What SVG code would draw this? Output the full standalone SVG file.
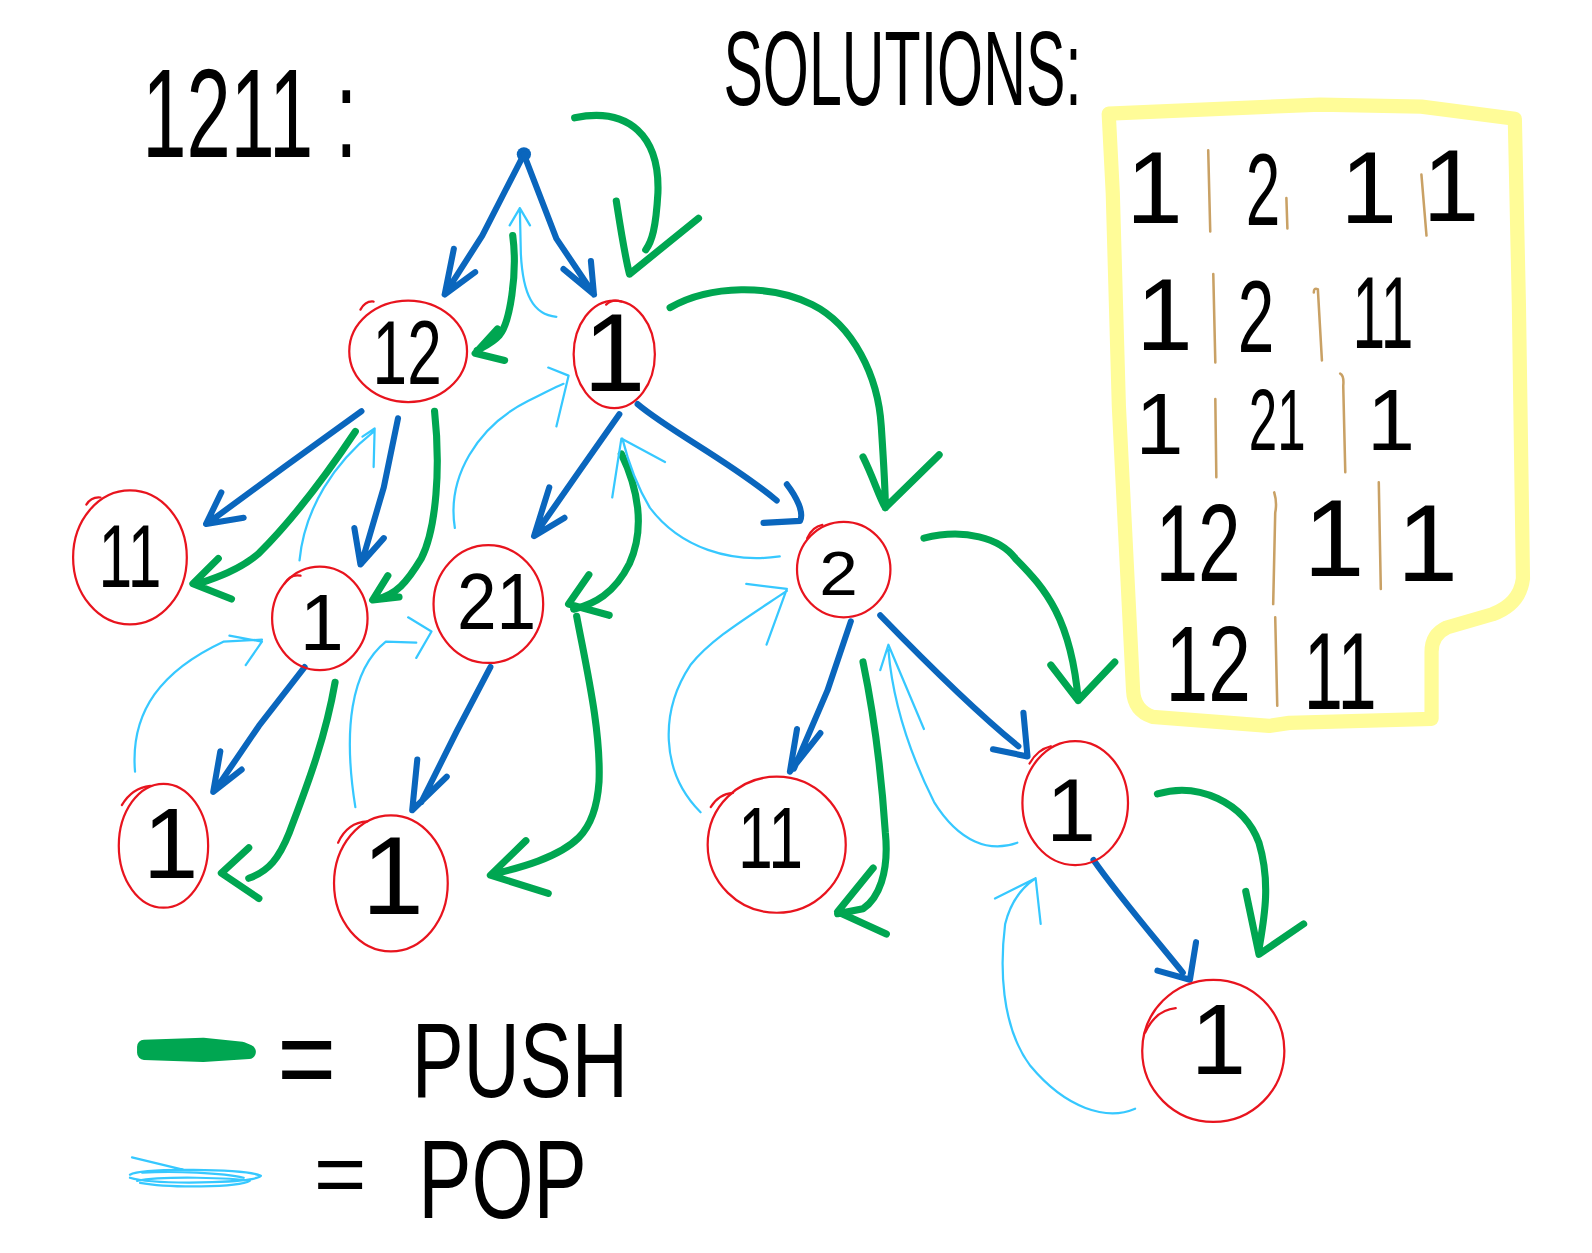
<svg xmlns="http://www.w3.org/2000/svg" width="1592" height="1253" viewBox="0 0 1592 1253">
<defs>
<style>
.b{fill:none;stroke:#0a66bd;stroke-width:6;stroke-linecap:round;stroke-linejoin:round}
.g{fill:none;stroke:#00a651;stroke-width:7;stroke-linecap:round;stroke-linejoin:round}
.p{fill:none;stroke:#36c8ff;stroke-width:2.2;stroke-linecap:round;stroke-linejoin:round}
.c{fill:none;stroke:#e8141e;stroke-width:2.2;stroke-linecap:round}
.t{font-family:"Liberation Sans",Arial,sans-serif;fill:#000;text-anchor:middle}
.s{fill:none;stroke:#c9a165;stroke-width:2.5;stroke-linecap:round}
</style>
</defs>
<rect width="1592" height="1253" fill="#fff"/>
<g transform="scale(1.0153)">
<g id="title">
<text class="t" x="246" y="155" font-size="125" textLength="212" lengthAdjust="spacingAndGlyphs">1211 :</text>
<text class="t" x="889" y="103" font-size="105" textLength="353" lengthAdjust="spacingAndGlyphs">SOLUTIONS:</text>
</g>
<g id="solutions">
<path d="M1092,112 L1300,103 L1400,105 L1492,117 L1496,300 L1500,570 Q1497,595 1470,605 L1425,618 Q1410,625 1410,642 L1410,708 L1270,712 L1250,715 L1135,706 Q1117,700 1116,680 L1102,400 L1096,190 Z" fill="none" stroke="#fffc98" stroke-width="14" stroke-linejoin="round"/>
<g class="t">
<text x="1137" y="220" font-size="100">1</text>
<text x="1244" y="222" font-size="100" textLength="34" lengthAdjust="spacingAndGlyphs">2</text>
<text x="1348" y="220" font-size="100">1</text>
<text x="1429" y="218" font-size="100">1</text>
<text x="1147" y="345" font-size="100">1</text>
<text x="1237" y="347" font-size="100" textLength="36" lengthAdjust="spacingAndGlyphs">2</text>
<text x="1362" y="343" font-size="100" textLength="60" lengthAdjust="spacingAndGlyphs">11</text>
<text x="1142" y="447" font-size="85">1</text>
<text x="1258" y="443" font-size="85" textLength="56" lengthAdjust="spacingAndGlyphs">21</text>
<text x="1370" y="443" font-size="85">1</text>
<text x="1180" y="572" font-size="108" textLength="84" lengthAdjust="spacingAndGlyphs">12</text>
<text x="1314" y="567" font-size="108">1</text>
<text x="1406" y="572" font-size="108">1</text>
<text x="1190" y="690" font-size="106" textLength="84" lengthAdjust="spacingAndGlyphs">12</text>
<text x="1320" y="698" font-size="108" textLength="72" lengthAdjust="spacingAndGlyphs">11</text>
</g>
<path class="s" d="M1190,148 L1192,228 M1267,195 L1268,225 M1400,172 L1405,232 M1195,270 L1197,357 M1294,288 Q1294,283 1298,285 L1302,355 M1197,393 L1198,470 M1320,368 Q1324,370 1323,380 L1325,465 M1255,485 Q1258,495 1256,505 L1254,595 M1358,475 L1360,580 M1256,608 L1258,695"/>
</g>
<g id="connectors">
<circle cx="516" cy="152" r="7" fill="#0a66bd"/>
<path class="b" d="M516,152 L475,232 L438,290 M447,245 L438,290 L468,268"/>
<path class="b" d="M516,152 L548,235 L585,290 M582,257 L585,290 L555,265"/>
<path class="b" d="M356,405 L280,460 L205,515 M218,485 L203,516 L240,510"/>
<path class="b" d="M392,412 L378,480 L356,555 M349,520 L355,556 L378,530"/>
<path class="b" d="M610,408 L570,465 L528,525 M541,480 L526,528 L556,510"/>
<path class="b" d="M628,398 C660,425 720,455 765,493 M775,477 C785,490 792,505 788,513 L752,515"/>
<path class="b" d="M300,657 L255,715 L212,778 M217,740 L210,780 L238,758"/>
<path class="b" d="M483,657 L450,720 L415,790 M411,748 L406,798 L440,765"/>
<path class="b" d="M838,612 L815,680 L782,757 M785,718 L778,760 L808,722"/>
<path class="b" d="M867,606 C900,640 960,700 1003,735 M1008,702 L1012,745 L978,738"/>
<path class="b" d="M1077,847 C1100,880 1130,915 1165,958 M1178,928 L1172,965 L1140,956"/>

<path class="g" d="M566,116 C620,105 650,135 648,190 C646,225 642,238 636,246 M607,198 C612,230 615,250 620,270 L688,215"/>
<path class="g" d="M505,232 C510,270 502,318 492,330 C485,338 475,342 470,345 M490,324 L468,348 L497,355"/>
<path class="g" d="M660,303 C700,280 760,280 800,300 C840,320 865,370 868,420 C870,450 872,480 872,500 M850,450 C860,470 866,490 872,500 L925,448"/>
<path class="g" d="M350,425 C320,470 290,510 255,545 C235,562 210,570 195,575 M215,550 L190,575 L228,590"/>
<path class="g" d="M428,405 C434,460 430,520 415,550 C400,575 390,585 372,590 M382,567 L367,591 L393,588"/>
<path class="g" d="M612,447 C628,480 636,520 620,555 C605,585 585,595 565,600 M580,566 L560,595 L600,606"/>
<path class="g" d="M330,672 C320,730 300,780 285,820 C275,845 265,858 245,865 M245,835 L218,860 L255,885"/>
<path class="g" d="M568,607 C578,660 592,720 590,770 C588,800 580,815 570,825 C550,845 510,855 490,860 M518,828 L483,862 L540,880"/>
<path class="g" d="M910,530 C950,520 985,530 1000,550 C1030,580 1055,610 1062,690 M1035,655 L1062,690 L1098,652"/>
<path class="g" d="M850,652 C860,700 868,760 872,820 C876,860 865,885 850,895 L825,900 M860,855 L825,898 L873,920"/>
<path class="g" d="M1140,782 C1180,770 1225,790 1240,830 C1252,870 1245,905 1240,935 M1227,878 L1240,940 L1284,910"/>

<path class="p" d="M548,312 C525,310 515,290 513,250 L512,205 M502,222 L512,205 L522,222"/>
<path class="p" d="M448,520 C440,470 470,420 520,395 C535,388 545,382 555,378 M540,362 L560,370 L548,420"/>
<path class="p" d="M295,552 C300,500 330,455 368,425 M357,430 L369,422 L368,460"/>
<path class="p" d="M133,760 C128,700 160,660 220,632 L258,630 M226,626 L258,632 L242,655"/>
<path class="p" d="M350,795 C338,720 345,660 380,632 L410,633 M402,608 L425,622 L410,648"/>
<path class="p" d="M768,548 C720,555 670,540 640,500 C628,480 620,460 613,432 M603,490 L612,432 L655,455"/>
<path class="p" d="M690,800 C650,760 650,700 680,655 C700,630 730,612 775,582 M735,575 L775,580 L755,635"/>
<path class="p" d="M1002,830 C975,840 945,830 920,790 C900,750 880,700 875,640 M867,660 L875,635 L910,718"/>
<path class="p" d="M1118,1092 C1090,1104 1050,1092 1015,1050 C985,1010 985,950 990,910 C995,890 1005,875 1020,865 M980,885 L1020,865 L1025,910"/>
</g>
<g id="n12"><ellipse class="c" cx="402" cy="346" rx="58" ry="50"/><path class="c" d="M355,305 Q360,296 368,297"/><text class="t" x="401" y="378" font-size="90" textLength="68" lengthAdjust="spacingAndGlyphs">12</text></g>
<g id="n1a"><ellipse class="c" cx="605" cy="349" rx="40" ry="53"/><path class="c" d="M597,300 Q603,294 612,297"/><text class="t" x="605" y="385" font-size="110">1</text></g>
<g id="n11a"><ellipse class="c" cx="128" cy="549" rx="56" ry="66"/><path class="c" d="M85,497 Q90,489 99,490"/><text class="t" x="128" y="578" font-size="88" textLength="62" lengthAdjust="spacingAndGlyphs">11</text></g>
<g id="n1b"><ellipse class="c" cx="315" cy="609" rx="47" ry="51"/><path class="c" d="M280,575 Q286,565 296,567"/><text class="t" x="317" y="640" font-size="78">1</text></g>
<g id="n21"><ellipse class="c" cx="481" cy="595" rx="54" ry="58"/><text class="t" x="489" y="620" font-size="78" textLength="78" lengthAdjust="spacingAndGlyphs">21</text></g>
<g id="n2"><ellipse class="c" cx="831" cy="561" rx="46" ry="47"/><path class="c" d="M795,530 Q800,519 810,517"/><text class="t" x="826" y="586" font-size="62" textLength="38" lengthAdjust="spacingAndGlyphs">2</text></g>
<g id="n1c"><ellipse class="c" cx="161" cy="833" rx="44" ry="61"/><path class="c" d="M120,793 Q130,776 148,774"/><text class="t" x="168" y="865" font-size="98">1</text></g>
<g id="n1d"><ellipse class="c" cx="385" cy="870" rx="56" ry="67"/><path class="c" d="M333,830 Q342,810 362,809"/><text class="t" x="387" y="900" font-size="110">1</text></g>
<g id="n11b"><ellipse class="c" cx="765" cy="832" rx="68" ry="67"/><path class="c" d="M700,795 Q708,782 722,781"/><text class="t" x="759" y="855" font-size="85" textLength="64" lengthAdjust="spacingAndGlyphs">11</text></g>
<g id="n1e"><ellipse class="c" cx="1059" cy="791" rx="52" ry="61"/><path class="c" d="M1014,752 Q1022,738 1035,735"/><text class="t" x="1055" y="828" font-size="88">1</text></g>
<g id="n1f"><ellipse class="c" cx="1195" cy="1035" rx="70" ry="70"/><path class="c" d="M1128,1017 Q1138,995 1158,993"/><text class="t" x="1200" y="1058" font-size="98">1</text></g>
<g id="legend">
<path d="M142,1031 L200,1029 L238,1033 L245,1036 L200,1039 L142,1037 Z" fill="#00a651" stroke="#00a651" stroke-width="14" stroke-linejoin="round"/>
<path class="p" d="M130,1140 L180,1152 M128,1157 C140,1150 240,1151 257,1158 C250,1166 150,1167 128,1160 M135,1163 C160,1158 230,1160 246,1163 C235,1170 165,1170 138,1165 M140,1155 C170,1153 220,1155 240,1160"/>
<text class="t" x="302" y="1082" font-size="115" textLength="58" lengthAdjust="spacingAndGlyphs">=</text>
<text class="t" x="512" y="1080" font-size="105" textLength="213" lengthAdjust="spacingAndGlyphs">PUSH</text>
<text class="t" x="335" y="1186" font-size="85" textLength="52" lengthAdjust="spacingAndGlyphs">=</text>
<text class="t" x="495" y="1200" font-size="110" textLength="166" lengthAdjust="spacingAndGlyphs">POP</text>
</g>
</g>
</svg>
